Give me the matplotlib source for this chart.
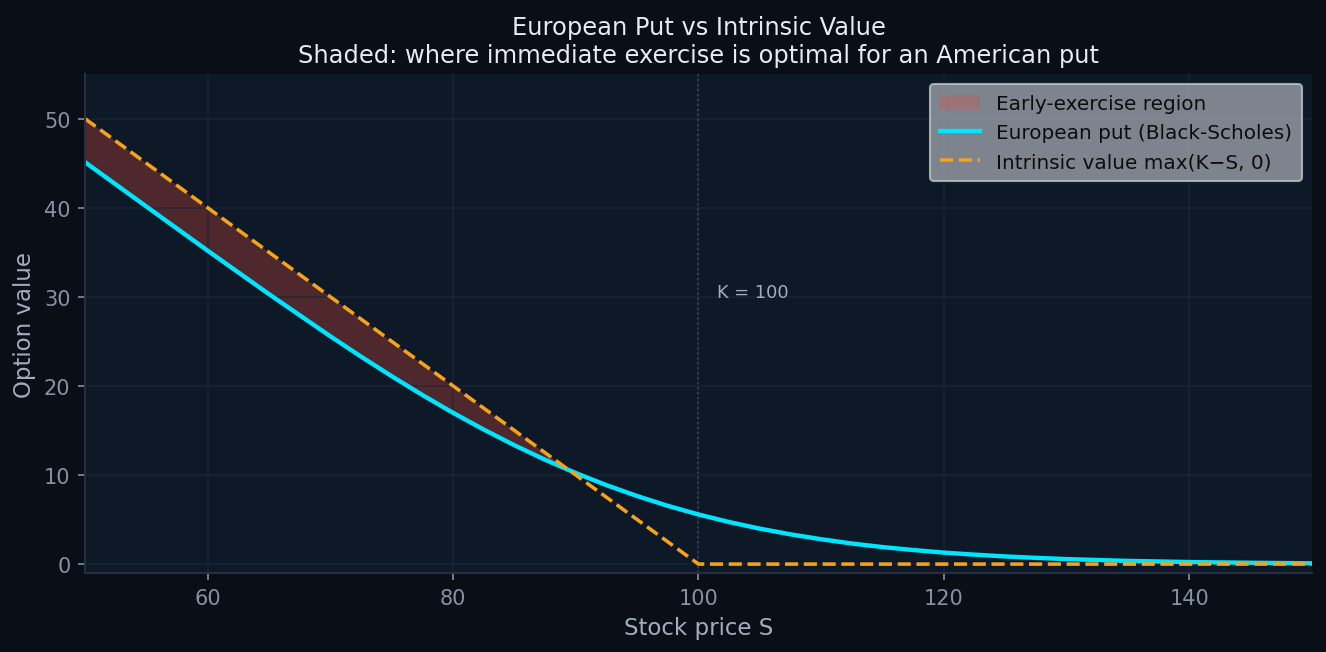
import matplotlib
matplotlib.use("Agg")
import matplotlib.pyplot as plt
import numpy as np

# ---- data ----
K = 100
stock_price = [50, 55, 60, 65, 70, 72.5, 75, 77.5, 80, 82.5, 85, 87.5, 90,
               92.5, 95, 97.5, 100, 102.5, 105, 107.5, 110, 112.5, 115, 117.5,
               120, 122.5, 125, 127.5, 130, 135, 140, 145, 150]
european_put = [45.12, 40.14, 35.18, 30.30, 25.57, 23.29, 21.09, 18.98, 16.98,
                15.10, 13.34, 11.71, 10.22, 8.86, 7.64, 6.54, 5.57, 4.72, 3.98,
                3.34, 2.79, 2.31, 1.91, 1.58, 1.29, 1.06, 0.86, 0.70, 0.56,
                0.36, 0.23, 0.15, 0.09]
intrinsic = [50, 45, 40, 35, 30, 27.5, 25, 22.5, 20, 17.5, 15, 12.5, 10, 7.5,
             5, 2.5, 0, 0, 0, 0, 0, 0, 0, 0, 0, 0, 0, 0, 0, 0, 0, 0, 0]
x_ticks = [60, 80, 100, 120, 140]
y_ticks = [0, 10, 20, 30, 40, 50]

FIG_BG = "#0a0e17"
AX_BG = "#0e1927"
GRID = "#1b2738"
TICK = "#8692a2"
LABEL = "#a3aebc"
TITLE = "#e8ecf0"

fig = plt.figure(figsize=(8.84, 4.353), dpi=150, facecolor=FIG_BG)
ax = fig.add_axes([0.0641, 0.121, 0.9253, 0.764])
ax.set_facecolor(AX_BG)

S = np.array(stock_price, dtype=float)
P = np.array(european_put, dtype=float)
I = np.array(intrinsic, dtype=float)

ax.fill_between(S, P, I, where=I > P, interpolate=True, color="#e74c3c",
                alpha=0.3, linewidth=0, label="Early-exercise region")
ax.plot(S, P, color="#00e5ff", lw=2.1, label="European put (Black-Scholes)",
        solid_joinstyle="round")
ax.plot(S, I, color="#f5a31a", lw=1.7, ls="--",
        label="Intrinsic value max(K\u2212S, 0)")

ax.axvline(K, color="#34445a", lw=0.9, ls=":", zorder=1.6)
ax.text(K + 1.5, 30, "K = 100", color="#a3aebc", fontsize=8.5)

ax.set_xlim(50, 150)
ax.set_ylim(-1, 55)
ax.set_xticks(x_ticks)
ax.set_yticks(y_ticks)
ax.grid(True, color=GRID, lw=0.8, alpha=0.7)

for side in ["top", "right"]:
    ax.spines[side].set_visible(False)
for side in ["left", "bottom"]:
    ax.spines[side].set_color("#243042")
    ax.spines[side].set_linewidth(1.0)

ax.tick_params(colors=TICK, labelsize=10, length=3.5, width=0.8)
for t in ax.get_xticklabels() + ax.get_yticklabels():
    t.set_color(TICK)

ax.set_xlabel("Stock price S", color=LABEL, fontsize=11)
ax.set_ylabel("Option value", color=LABEL, fontsize=11)
ax.set_title("European Put vs Intrinsic Value\n"
             "Shaded: where immediate exercise is optimal for an American put",
             color=TITLE, fontsize=11.6, pad=6)

leg = ax.legend(loc="upper right", fontsize=9.6, facecolor="#9aa0a8",
                edgecolor="#c0c6ce", framealpha=0.8, borderpad=0.5)
for txt in leg.get_texts():
    txt.set_color("#0c0c0c")

fig.savefig("out.png", dpi=150, facecolor=FIG_BG)
